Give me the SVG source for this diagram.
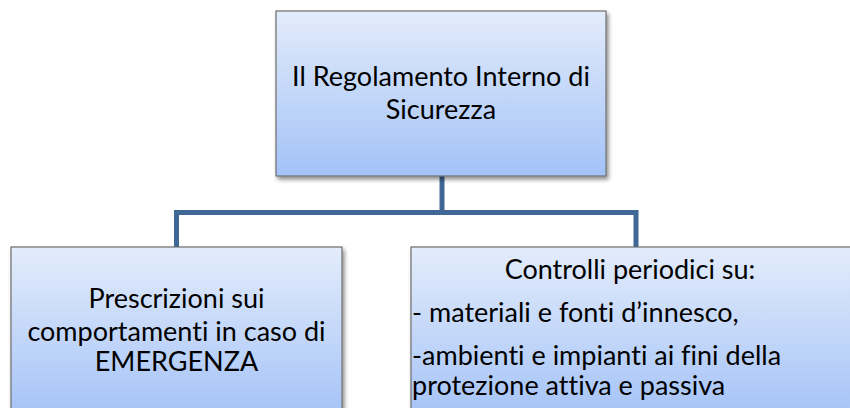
<svg xmlns="http://www.w3.org/2000/svg" width="850" height="408" viewBox="0 0 850 408">
<defs>
<linearGradient id="g" x1="0" y1="0" x2="0" y2="1">
<stop offset="0" stop-color="#E3ECFB"/>
<stop offset="1" stop-color="#A3C2F7"/>
</linearGradient>
<filter id="sh" x="-5%" y="-5%" width="115%" height="120%">
<feGaussianBlur in="SourceAlpha" stdDeviation="2"/>
<feOffset dx="2" dy="3" result="b"/>
<feComponentTransfer><feFuncA type="linear" slope="0.45"/></feComponentTransfer>
<feMerge><feMergeNode/><feMergeNode in="SourceGraphic"/></feMerge>
</filter>
</defs>
<style>
.box{fill:url(#g);stroke:#6E6E6E;stroke-width:1.2;filter:url(#sh)}
.t{font-family:Lato,"Liberation Sans",sans-serif;font-size:27px;fill:#000;font-variant-ligatures:none;font-feature-settings:"liga" 0,"dlig" 0}
.c{text-anchor:middle}
.conn{fill:none;stroke:#3F6897;stroke-width:5}
</style>
<rect width="850" height="408" fill="#fff"/>
<g id="connectors">
<path class="conn" d="M442 176 V212.5 M176.5 247 V212.5 H636 V247"/>
</g>
<g id="root">
<rect class="box" x="276" y="11" width="330" height="165"/>
<text class="t c" x="441" y="86">Il Regolamento Interno di</text>
<text class="t c" x="441" y="119">Sicurezza</text>
</g>
<g id="emergenza">
<rect class="box" x="11" y="247" width="331" height="175"/>
<text class="t c" x="176.5" y="308">Prescrizioni sui</text>
<text class="t c" x="176.5" y="341">comportamenti in caso di</text>
<text class="t c" x="176.5" y="371">EMERGENZA</text>
</g>
<g id="controlli">
<rect class="box" x="411" y="247" width="445" height="175"/>
<text class="t c" x="630" y="279">Controlli periodici su:</text>
<text class="t" x="412" y="322">- materiali e fonti d’innesco,</text>
<text class="t" x="412" y="365">-ambienti e impianti ai fini della</text>
<text class="t" x="412" y="395">protezione attiva e passiva</text>
</g>
</svg>
